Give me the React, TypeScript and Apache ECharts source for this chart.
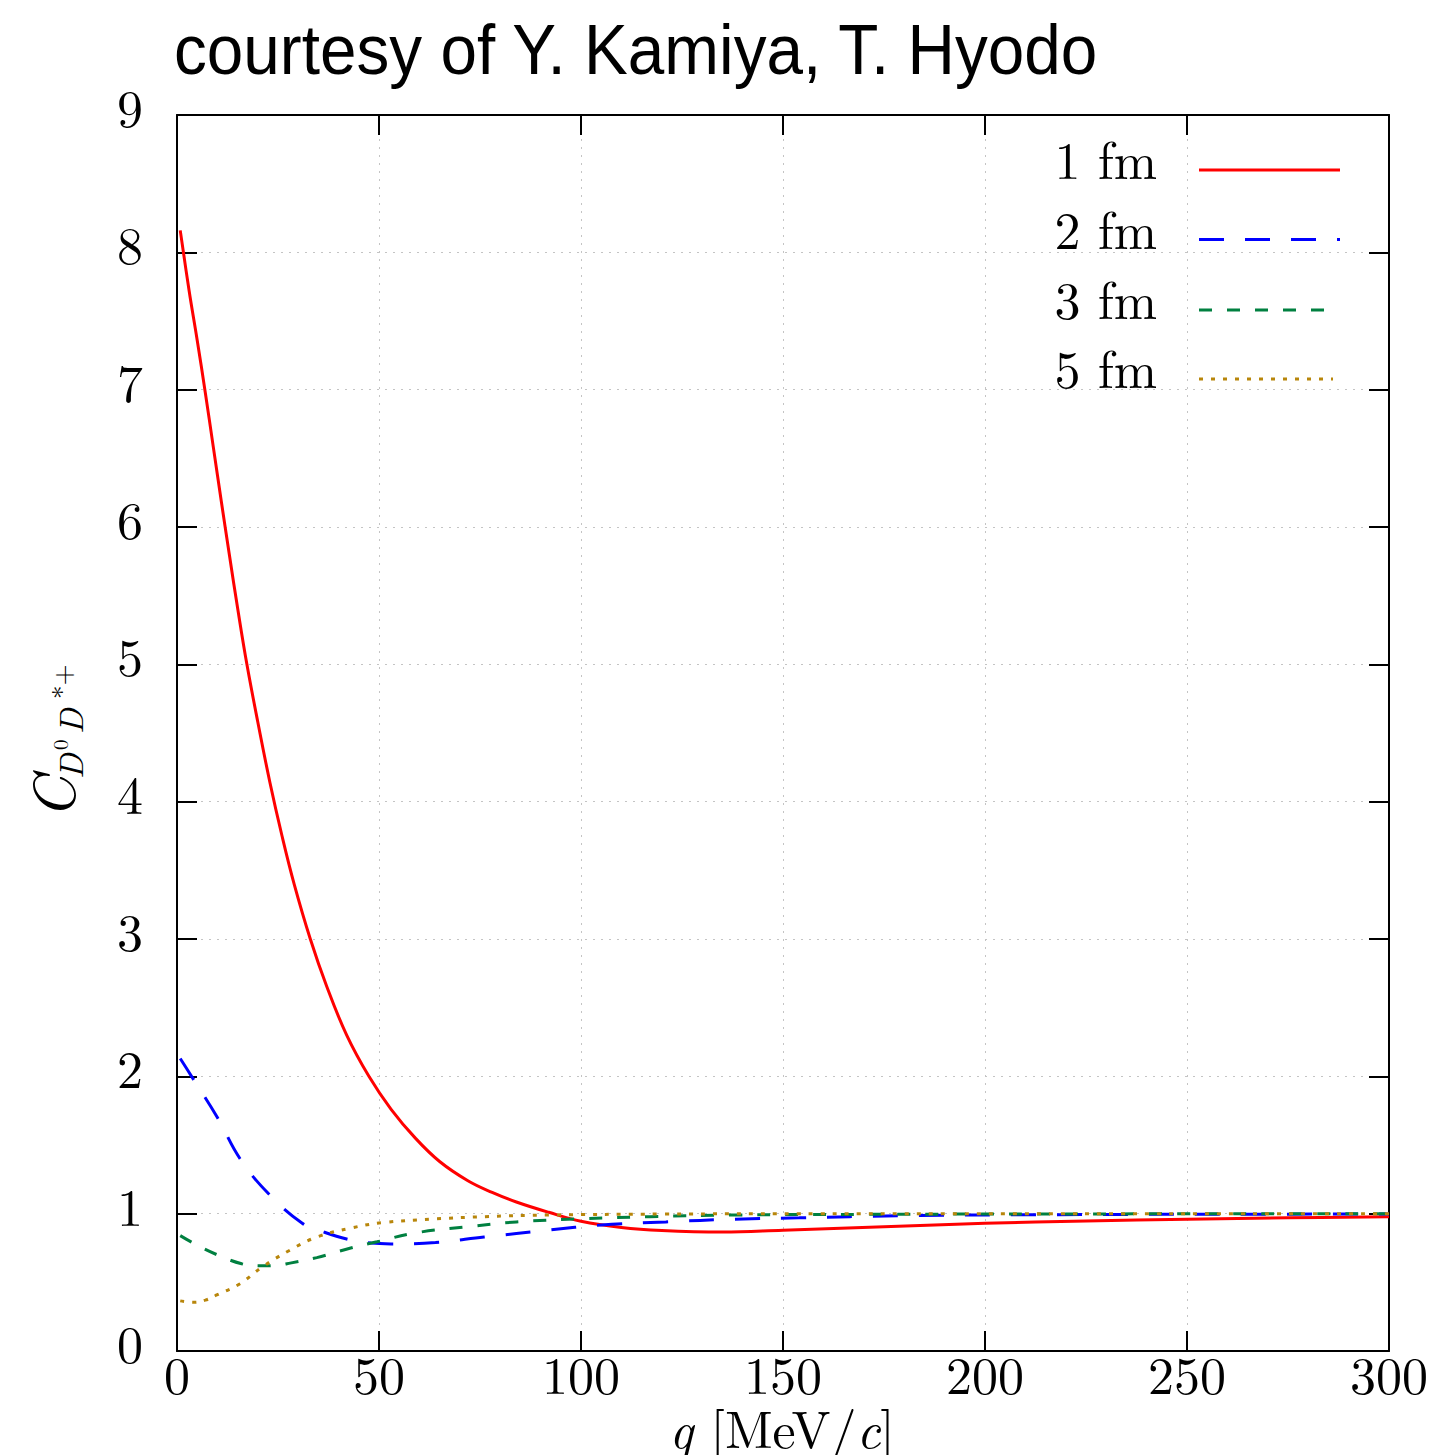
import React, { useEffect, useRef } from "react";
import * as echarts from "echarts";

// ---- data ----
const xTicks = [0, 50, 100, 150, 200, 250, 300];
const yTicks = [0, 1, 2, 3, 4, 5, 6, 7, 8, 9];

const legendLabels = ["1 fm", "2 fm", "3 fm", "5 fm"];

const q1fm = [0.8, 3, 5, 7, 9, 11, 13, 15, 17.3, 20, 23, 26, 29, 33, 37, 42, 47.5, 53, 59, 65, 72, 78, 84, 92, 100, 110, 120, 135, 150, 175, 200, 225, 250, 275, 300];
const c1fm = [8.16, 7.72, 7.36, 6.98, 6.58, 6.18, 5.79, 5.41, 5.0, 4.58, 4.14, 3.75, 3.4, 3.0, 2.66, 2.3, 2.0, 1.76, 1.55, 1.38, 1.24, 1.155, 1.085, 1.01, 0.945, 0.9, 0.878, 0.867, 0.88, 0.905, 0.93, 0.947, 0.96, 0.97, 0.977];

const q2fm = [0.8, 3.6, 10, 15.6, 22.5, 31, 36, 42, 48, 53, 64, 76, 92, 105, 121, 138, 154, 179, 212, 260, 300];
const c2fm = [2.13, 2.0, 1.7, 1.4, 1.15, 0.93, 0.87, 0.815, 0.786, 0.78, 0.79, 0.83, 0.88, 0.917, 0.94, 0.96, 0.97, 0.985, 0.992, 0.996, 0.997];

const q3fm = [0.8, 5, 10, 16, 20.5, 25, 28, 34.6, 43, 49.5, 59, 72, 84, 100.5, 117, 138, 170, 220, 300];
const c3fm = [0.84, 0.77, 0.7, 0.635, 0.62, 0.625, 0.64, 0.68, 0.75, 0.795, 0.86, 0.905, 0.94, 0.963, 0.978, 0.99, 0.995, 0.998, 1.0];

const q5fm = [0.8, 4, 7, 10, 15.6, 21, 28, 34.6, 43, 51, 63, 76, 92, 120, 160, 300];
const c5fm = [0.365, 0.355, 0.37, 0.41, 0.49, 0.61, 0.735, 0.83, 0.895, 0.935, 0.96, 0.978, 0.99, 0.997, 1.0, 1.0];

const colors = ["#ff0000", "#0000ff", "#008040", "#b8860b"];
const dashes: (number[] | "solid")[] = ["solid", [25, 21], [13, 15], [4, 8]];
const legendLineEnds = [1340, 1340, 1328, 1333];

const pairs = (xs: number[], ys: number[]) => xs.map((x, i) => [x, ys[i]]);

const SERIF = '"Latin Modern Roman", "Liberation Serif", "DejaVu Serif", serif';

export default function App() {
  const ref = useRef<HTMLDivElement>(null);
  useEffect(() => {
    if (!ref.current) return;
    const chart = echarts.init(ref.current, undefined, { renderer: "svg" });

    const seriesData = [pairs(q1fm, c1fm), pairs(q2fm, c2fm), pairs(q3fm, c3fm), pairs(q5fm, c5fm)];

    const gridL = 177, gridT = 115, gridW = 1212, gridH = 1236;

    const baseAxis = {
      axisLine: { show: true, onZero: false, lineStyle: { color: "#000", width: 2 } },
      axisTick: { show: true, inside: true, length: 20, lineStyle: { color: "#000", width: 2 } },
    };

    const legendRowsY = [170, 239.5, 310, 379];
    const legendGraphics: any[] = [];
    legendLabels.forEach((lab, i) => {
      legendGraphics.push({
        type: "text",
        x: 1157,
        y: legendRowsY[i] - 13,
        style: { text: lab, fill: "#000", font: `52px ${SERIF}`, align: "right", verticalAlign: "middle" },
      });
      legendGraphics.push({
        type: "line",
        shape: { x1: 1199, y1: legendRowsY[i], x2: legendLineEnds[i], y2: legendRowsY[i] },
        style: {
          stroke: colors[i],
          lineWidth: 3,
          lineDash: dashes[i] === "solid" ? null : dashes[i],
        },
      });
    });

    const option: any = {
      animation: false,
      backgroundColor: "#fff",
      grid: { left: gridL, top: gridT, width: gridW, height: gridH, containLabel: false },
      xAxis: [
        {
          type: "value",
          min: 0,
          max: 300,
          interval: 50,
          position: "bottom",
          ...baseAxis,
          axisLabel: { show: true, margin: -5, color: "#000", fontSize: 52, fontFamily: SERIF, formatter: (v: number) => (xTicks.includes(v) ? String(v) : "") },
          splitLine: { show: true, lineStyle: { color: "#c4c4c4", width: 1, type: [2, 6] } },
        },
        {
          type: "value",
          min: 0,
          max: 300,
          interval: 50,
          position: "top",
          ...baseAxis,
          axisLabel: { show: false },
          splitLine: { show: false },
        },
      ],
      yAxis: [
        {
          type: "value",
          min: 0,
          max: 9,
          interval: 1,
          position: "left",
          ...baseAxis,
          axisLabel: {
            show: true,
            margin: 34,
            color: "#000",
            fontSize: 52,
            fontFamily: SERIF,
            formatter: (v: number) => (yTicks.includes(v) ? `{a|${v}}` : ""),
            rich: {
              a: { fontSize: 52, fontFamily: SERIF, color: "#000", lineHeight: 52, padding: [0, 0, 20, 0] },
            },
          },
          splitLine: { show: true, lineStyle: { color: "#c4c4c4", width: 1, type: [2, 6] } },
        },
        {
          type: "value",
          min: 0,
          max: 9,
          interval: 1,
          position: "right",
          ...baseAxis,
          axisLabel: { show: false },
          splitLine: { show: false },
        },
      ],
      series: seriesData.map((d, i) => ({
        name: legendLabels[i],
        type: "line",
        data: d,
        smooth: 0.4,
        showSymbol: false,
        symbol: "none",
        clip: true,
        lineStyle: { color: colors[i], width: 3, type: dashes[i] },
        z: 3 + i,
      })),
      graphic: [
        {
          type: "text",
          x: 174,
          y: 49,
          scaleX: 0.925,
          style: {
            text: "courtesy of Y. Kamiya, T. Hyodo",
            fill: "#000",
            font: '71px "Liberation Sans Narrow", "Liberation Sans", Arial, sans-serif',
            align: "left",
            verticalAlign: "middle",
          },
        },
        // x-axis title
        {
          type: "text",
          x: 782,
          y: 1426,
          style: {
            text: "{i|q} [MeV/{i|c}]",
            fill: "#000",
            font: `52px ${SERIF}`,
            align: "center",
            verticalAlign: "middle",
            rich: { i: { fontStyle: "italic", fontSize: 52, fontFamily: SERIF } },
          },
        },
        // y-axis title (rotated)
        {
          type: "text",
          x: 49,
          y: 819,
          rotation: Math.PI / 2,
          style: { text: "C", fill: "#000", font: `italic 60px ${SERIF}`, align: "left", verticalAlign: "middle" },
        },
        {
          type: "text",
          x: 69,
          y: 779,
          rotation: Math.PI / 2,
          style: { text: "D", fill: "#000", font: `italic 34px ${SERIF}`, align: "left", verticalAlign: "middle" },
        },
        {
          type: "text",
          x: 59,
          y: 750,
          rotation: Math.PI / 2,
          style: { text: "0", fill: "#000", font: `21px ${SERIF}`, align: "left", verticalAlign: "middle" },
        },
        {
          type: "text",
          x: 69,
          y: 734,
          rotation: Math.PI / 2,
          style: { text: "D", fill: "#000", font: `italic 34px ${SERIF}`, align: "left", verticalAlign: "middle" },
        },
        {
          type: "text",
          x: 61,
          y: 699,
          rotation: Math.PI / 2,
          style: { text: "*+", fill: "#000", font: `27px ${SERIF}`, align: "left", verticalAlign: "middle" },
        },
        ...legendGraphics,
      ],
    };

    chart.setOption(option);
    return () => chart.dispose();
  }, []);

  return <div ref={ref} style={{ position: "fixed", left: 0, top: 0, width: 1435, height: 1455 }} />;
}
